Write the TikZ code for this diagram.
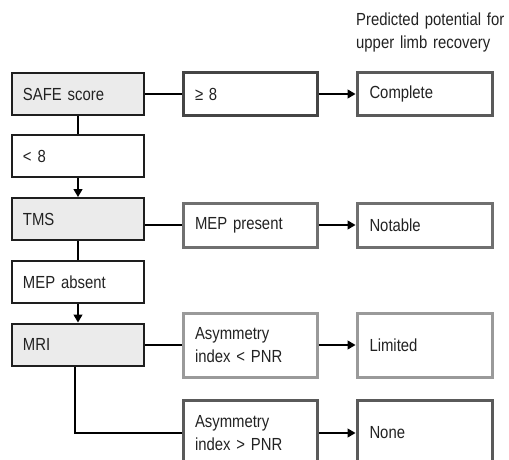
\documentclass[tikz,border=0pt]{standalone}
\usepackage{fontspec}
\setmainfont[FakeStretch=0.85]{Liberation Sans}
\usetikzlibrary{arrows.meta}
\definecolor{txt}{HTML}{222222}
\definecolor{lcol}{HTML}{1E1E1E}
\definecolor{lfill}{HTML}{EBEBEB}
\definecolor{cdark}{HTML}{454545}
\definecolor{cmid}{HTML}{707070}
\definecolor{clight}{HTML}{9A9A9A}
\definecolor{cnone}{HTML}{5A5A5A}
\begin{document}
\begin{tikzpicture}[x=1pt,y=-1pt,
  font=\fontsize{17.5}{22.5}\selectfont, text=txt,
  leftbox/.style={draw=lcol, line width=2pt, minimum width=132pt, minimum height=42pt,
     text width=110pt, inner xsep=11pt, align=left},
  gbox/.style={leftbox, fill=lfill},
  midbox/.style={draw=#1, line width=3pt, minimum width=134pt, minimum height=42pt,
     text width=110pt, inner xsep=12pt, align=left},
  resbox/.style={draw=#1, line width=3pt, minimum width=135pt, minimum height=42pt,
     text width=110pt, inner xsep=12.5pt, align=left},
  link/.style={draw=black, line width=1.3pt},
  arr/.style={link, -{Triangle[length=8pt,width=9pt]}}]
\useasboundingbox (0,0) rectangle (509,460);
% title
\node[anchor=north west, inner sep=0pt, align=left, text width=160pt] (title) at (356,13)
  {Predicted potential for\\upper limb recovery};
% left column
\node[gbox] (safe) at (78,94) {SAFE score};
\node[leftbox] (lt8) at (78,156) {< 8};
\node[gbox] (tms) at (78,219) {TMS};
\node[leftbox] (absent) at (78,282) {MEP absent};
\node[gbox] (mri) at (78,344.5) {MRI};
% middle column
\node[midbox=cdark] (ge8) at (250,94) {≥ 8};
\node[midbox=cmid, minimum height=44pt] (mep) at (250,225) {MEP present};
\node[midbox=clight, minimum height=64pt] (asyl) at (250,345) {Asymmetry\\index < PNR};
\node[midbox=cnone, minimum height=66pt] (asyg) at (250,433) {Asymmetry\\index > PNR};
% right column
\node[resbox=cnone, minimum height=43pt] (complete) at (424.5,94) {Complete};
\node[resbox=cmid, minimum height=44pt] (notable) at (424.5,225) {Notable};
\node[resbox=clight, minimum height=64pt] (limited) at (424.5,345) {Limited};
\node[resbox=cnone, minimum height=66pt] (none) at (424.5,433) {None};
% connectors
\draw[link] (safe.east) -- (ge8.west);
\draw[arr] (ge8.east) -- (complete.west);
\draw[link] (safe.south) -- (lt8.north);
\draw[arr] (lt8.south) -- (tms.north);
\draw[link] (mep.west -| tms.east) -- (mep.west);
\draw[arr] (mep.east) -- (notable.west);
\draw[link] (tms.south) -- (absent.north);
\draw[arr] (absent.south) -- (mri.north);
\draw[link] (asyl.west -| mri.east) -- (asyl.west);
\draw[arr] (asyl.east) -- (limited.west);
\draw[link] ([xshift=-3pt]mri.south) |- (asyg.west);
\draw[arr] (asyg.east) -- (none.west);
\end{tikzpicture}
\end{document}
